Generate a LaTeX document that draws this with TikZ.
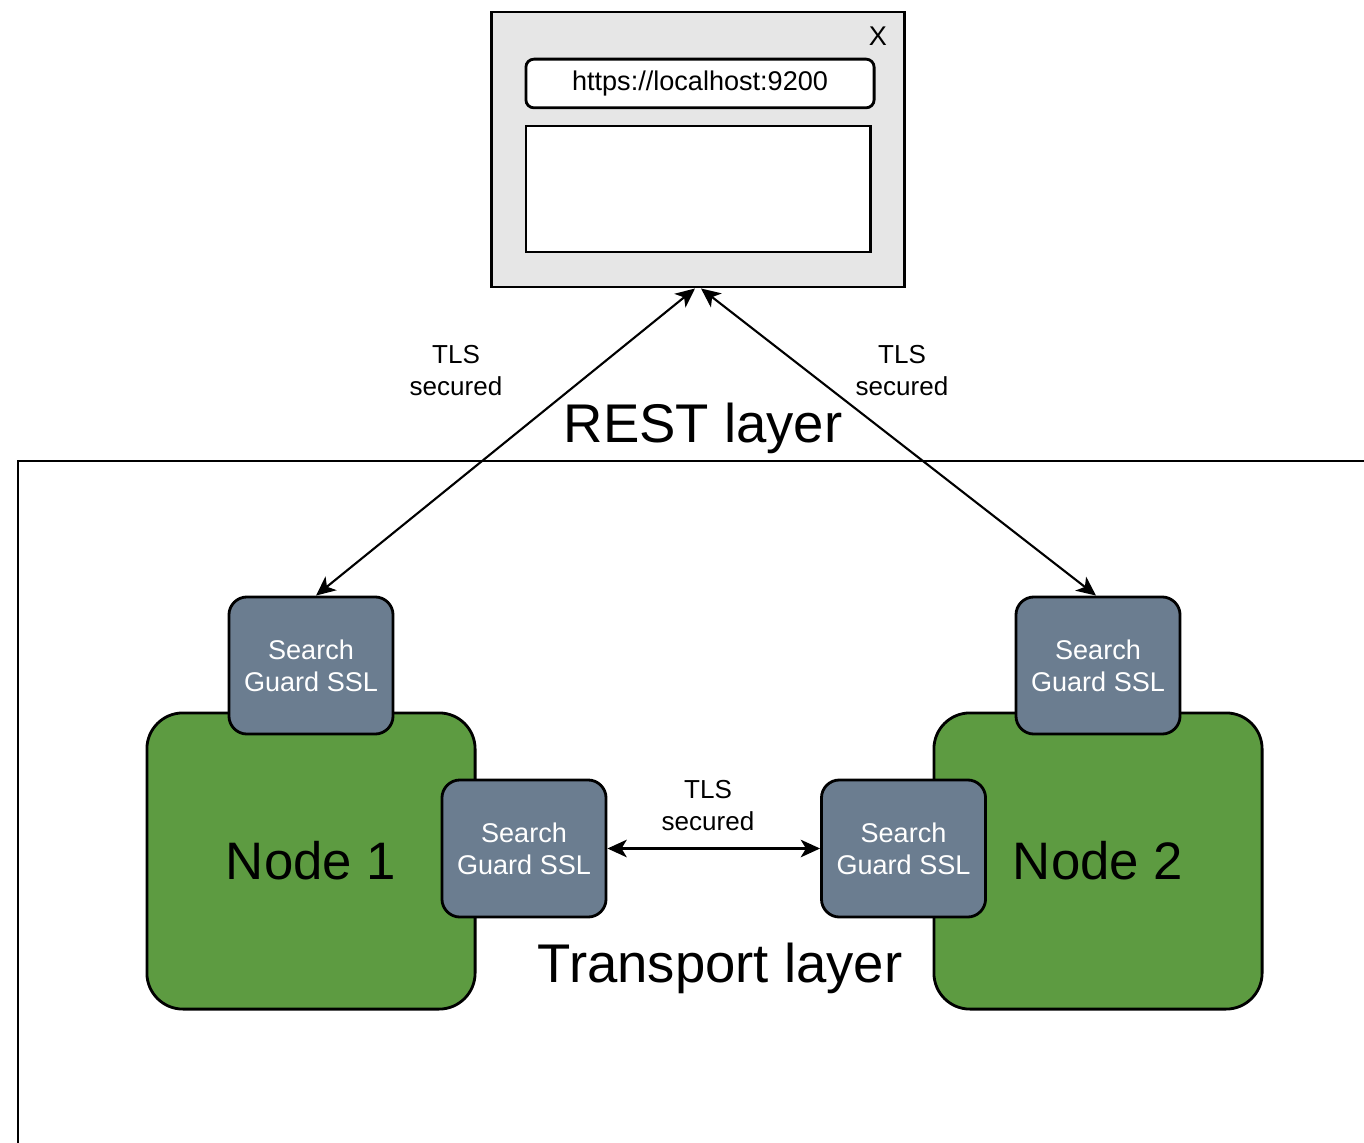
\documentclass[tikz,border=0pt]{standalone}
\usepackage{fontspec}
\setmainfont{Liberation Sans}
\usepackage{tikz}
\usetikzlibrary{arrows.meta}

\definecolor{nodegreen}{HTML}{5D9B41}
\definecolor{sslgray}{HTML}{6B7D90}
\definecolor{wingray}{HTML}{E6E6E6}

\tikzset{
  sslbox/.style={draw=black, line width=0.8pt, fill=sslgray, rounded corners=0.18cm,
    minimum width=1.64cm, minimum height=1.37cm, align=center, text=white,
    font=\fontsize{7.7}{9.1}\selectfont},
  esnode/.style={draw=black, line width=0.8pt, fill=nodegreen, rounded corners=0.36cm,
    minimum width=3.28cm, minimum height=2.96cm, font=\fontsize{15}{18}\selectfont},
  tlslabel/.style={align=center, font=\fontsize{7.4}{9.1}\selectfont},
  layerlabel/.style={font=\fontsize{15.5}{18}\selectfont},
  link/.style={line width=0.6pt, {Stealth[length=5.5pt,width=5pt,inset=1.5pt]}-{Stealth[length=5.5pt,width=5pt,inset=1.5pt]}}
}

\begin{document}
\begin{tikzpicture}[x=0.01cm, y=-0.01cm]
\useasboundingbox (0,0) rectangle (1364,1143);

% transport layer frame
\draw[line width=0.8pt] (18,1160) -- (18,461) -- (1380,461);

% browser window
\node[draw=black, line width=0.8pt, fill=wingray, minimum width=4.12cm, minimum height=2.75cm] (browser) at (698,149.5) {};
\node[font=\fontsize{7.7}{9}\selectfont] (close) at (878,36) {X};
\node[draw=black, line width=0.8pt, fill=white, rounded corners=0.08cm, minimum width=3.48cm, minimum height=0.45cm,
  font=\fontsize{7.7}{9}\selectfont] (url) at (700,83.5) {https://localhost:9200};
\node[draw=black, line width=0.8pt, fill=white, minimum width=3.44cm, minimum height=1.26cm] (page) at (698,189) {};

% elasticsearch nodes
\node[esnode] (node1) at (311,861) {Node 1};
\node[esnode] (node2) at (1098,861) {Node 2};

\node[sslbox] (sslA) at (311,665.5) {Search\\Guard SSL};
\node[sslbox] (sslB) at (524,848.5) {Search\\Guard SSL};
\node[sslbox] (sslC) at (903.5,848.5) {Search\\Guard SSL};
\node[sslbox] (sslD) at (1098,665.5) {Search\\Guard SSL};

% labels
\node[layerlabel] (rest) at (703,428) {REST layer};
\node[layerlabel] (transport) at (720,968) {Transport layer};
\node[tlslabel] (tlsA) at (456,371) {TLS\\secured};
\node[tlslabel] (tlsB) at (902,371) {TLS\\secured};
\node[tlslabel] (tlsC) at (708,806) {TLS\\secured};

% connections
\draw[link] ([xshift=-0.03cm]browser.south) -- ([xshift=0.05cm]sslA.north);
\draw[link] ([xshift=0.03cm]browser.south) -- ([xshift=-0.02cm]sslD.north);
\draw[link] (sslB.east) -- (sslC.west);
\end{tikzpicture}
\end{document}
